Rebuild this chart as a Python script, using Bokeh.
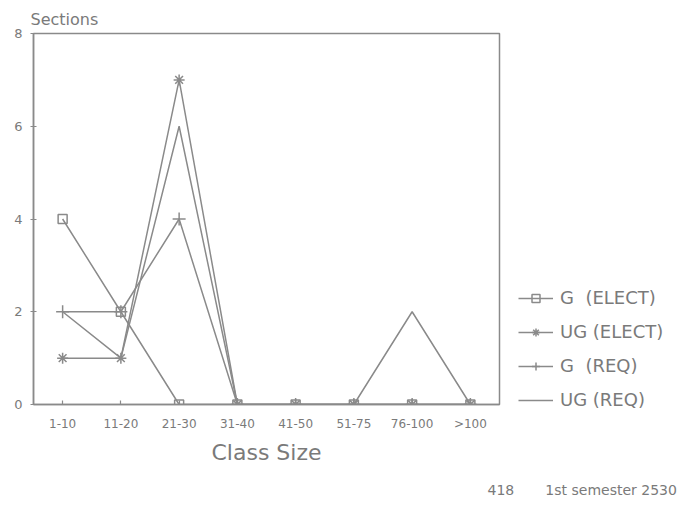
from bokeh.plotting import figure
from bokeh.models import FixedTicker, Legend, LegendItem, Range1d, Title
from bokeh.embed import file_html
from bokeh.resources import INLINE

# ---- data ----
class_sizes = ["1-10", "11-20", "21-30", "31-40", "41-50", "51-75", "76-100", ">100"]
g_elect = [4, 2, 0, 0, 0, 0, 0, 0]
ug_elect = [1, 1, 7, 0, 0, 0, 0, 0]
g_req = [2, 2, 4, 0, 0, 0, 0, 0]
ug_req = [2, 1, 6, 0, 0, 0, 2, 0]
y_ticks = [0, 2, 4, 6, 8]
series_labels = ["G  (ELECT)", "UG (ELECT)", "G  (REQ)", "UG (REQ)"]
page_no = "418"
footer = "1st semester 2530"

x = list(range(len(class_sizes)))

GRAY = "#8a8a8a"
TEXT = "#7a7a7a"
FONT = "DejaVu Sans"

p = figure(frame_width=466, frame_height=371,
           x_range=Range1d(-0.5, 7.5), y_range=Range1d(0, 8),
           output_backend="svg", toolbar_location=None,
           min_border_left=33, min_border_top=33,
           min_border_right=186, min_border_bottom=100)

p.background_fill_color = "white"
p.border_fill_color = "white"
p.xgrid.visible = False
p.ygrid.visible = False
p.outline_line_color = GRAY
p.outline_line_width = 1.5

# title as y-axis caption
p.title.text = "Sections"
p.title.align = "left"
p.title.offset = -3
p.title.text_font = FONT
p.title.text_font_size = "16px"
p.title.text_font_style = "normal"
p.title.text_color = TEXT
p.title.standoff = 10

# axes
for ax in (p.xaxis[0], p.yaxis[0]):
    ax.axis_line_color = GRAY
    ax.axis_line_width = 1.5
    ax.major_tick_line_color = GRAY
    ax.major_tick_line_width = 1.2
    ax.minor_tick_line_color = None
    ax.major_label_text_font = FONT
    ax.major_label_text_color = TEXT

p.xaxis.major_label_text_font_size = "12px"
p.yaxis.major_label_text_font_size = "13px"

p.xaxis.ticker = FixedTicker(ticks=x)
p.xaxis.major_label_overrides = {i: s for i, s in zip(x, class_sizes)}
p.xaxis.major_tick_in = 4
p.xaxis.major_tick_out = 0
p.xaxis.major_label_standoff = 12
p.xaxis.axis_label = "Class Size"
p.xaxis.axis_label_text_font = FONT
p.xaxis.axis_label_text_font_size = "22px"
p.xaxis.axis_label_text_font_style = "normal"
p.xaxis.axis_label_text_color = TEXT
p.xaxis.axis_label_standoff = 6

p.yaxis.ticker = FixedTicker(ticks=y_ticks)
p.yaxis.major_tick_in = 3
p.yaxis.major_tick_out = 3
p.yaxis.major_label_standoff = 8

# series
lw = 1.5
r1l = p.line(x, g_elect, line_color=GRAY, line_width=lw)
r1m = p.scatter(x, g_elect, marker="square", size=9, line_color=GRAY,
                fill_color="white", fill_alpha=0.0, line_width=1.5)
r2l = p.line(x, ug_elect, line_color=GRAY, line_width=lw)
r2m = p.scatter(x, ug_elect, marker="asterisk", size=11, line_color=GRAY, line_width=1.5)
r3l = p.line(x, g_req, line_color=GRAY, line_width=lw)
r3m = p.scatter(x, g_req, marker="cross", size=13, line_color=GRAY, line_width=1.5)
r4l = p.line(x, ug_req, line_color=GRAY, line_width=lw)

legend = Legend(items=[
    LegendItem(label=series_labels[0], renderers=[r1l, r1m]),
    LegendItem(label=series_labels[1], renderers=[r2l, r2m]),
    LegendItem(label=series_labels[2], renderers=[r3l, r3m]),
    LegendItem(label=series_labels[3], renderers=[r4l]),
], location=(19, -6))
legend.padding = 0
legend.margin = 0
legend.spacing = 13
legend.glyph_width = 35
legend.glyph_height = 20
legend.label_height = 20
legend.label_standoff = 7
legend.border_line_color = None
legend.background_fill_alpha = 0
legend.label_text_font = FONT
legend.label_text_font_size = "18px"
legend.label_text_color = TEXT
legend.label_text_baseline = "middle"
p.add_layout(legend, "right")

# footer
gap = "\u00a0" * 7
p.add_layout(Title(text=page_no + gap + footer, align="left", offset=454,
                   text_font=FONT, text_font_size="14px", text_font_style="normal",
                   text_color=TEXT, standoff=25), "below")

open("out.html", "w").write(file_html(p, INLINE))
